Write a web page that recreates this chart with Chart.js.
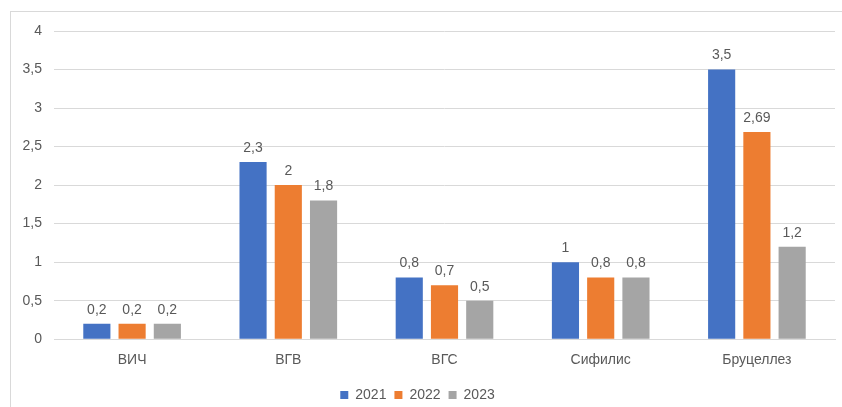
<!DOCTYPE html>
<html>
<head>
<meta charset="utf-8">
<script src="https://cdn.jsdelivr.net/npm/chart.js@4"></script>
<style>
  html, body { margin: 0; padding: 0; background: #fff; }
  #wrap { position: relative; width: 842px; height: 407px; overflow: hidden; }
  #frame { position: absolute; left: 10px; top: 11px; width: 840px; height: 410px;
           border: 1px solid #d9d9d9; box-sizing: border-box; }
  canvas { position: absolute; left: 0; top: 0; }
</style>
</head>
<body>
<div id="wrap">
  <div id="frame"></div>
  <canvas id="myChart" width="842" height="407"></canvas>
</div>
<script>
// categories and series
var diseases = ["ВИЧ", "ВГВ", "ВГС", "Сифилис", "Бруцеллез"];
var y2021 = [0.2, 2.3, 0.8, 1, 3.5];
var y2022 = [0.2, 2, 0.7, 0.8, 2.69];
var y2023 = [0.2, 1.8, 0.5, 0.8, 1.2];

var textColor = "#595959";
var fontFam = "'Liberation Sans', Arial, sans-serif";

function commaNum(v) {
  return String(v).replace(".", ",");
}

// value labels above the bars
var barLabels = {
  id: "barLabels",
  afterDatasetsDraw: function(chart) {
    var ctx = chart.ctx;
    ctx.save();
    ctx.font = "14px " + fontFam;
    ctx.fillStyle = textColor;
    ctx.textAlign = "center";
    ctx.textBaseline = "bottom";
    chart.data.datasets.forEach(function(ds, i) {
      chart.getDatasetMeta(i).data.forEach(function(bar, j) {
        ctx.fillText(commaNum(ds.data[j]), bar.x, bar.y - 7);
      });
    });
    ctx.restore();
  }
};

var ctx = document.getElementById("myChart");
var myChart = new Chart(ctx, {
  type: 'bar',
  data: {
    labels: diseases,
    datasets: [
      { label: "2021", data: y2021, backgroundColor: "#4472C4" },
      { label: "2022", data: y2022, backgroundColor: "#ED7D31" },
      { label: "2023", data: y2023, backgroundColor: "#A5A5A5" }
    ]
  },
  options: {
    responsive: false,
    animation: false,
    devicePixelRatio: 1,
    categoryPercentage: 0.677,
    barPercentage: 0.77,
    layout: { padding: { top: 31, right: 7, left: 0, bottom: -5 } },
    plugins: {
      tooltip: { enabled: false },
      legend: {
        position: 'bottom',
        labels: {
          color: textColor,
          font: { family: fontFam, size: 14 },
          boxWidth: 8,
          boxHeight: 8,
          padding: 8
        }
      }
    },
    scales: {
      x: {
        afterFit: function(scale) { scale.height -= 2; },
        grid: { display: false, drawTicks: false },
        border: { display: true, color: "#d9d9d9" },
        ticks: { color: textColor, font: { family: fontFam, size: 14 }, padding: 13 }
      },
      y: {
        min: 0,
        max: 4,
        afterFit: function(scale) { scale.width = 54; },
        grid: { color: "#d9d9d9", drawTicks: false },
        border: { display: false },
        ticks: {
          stepSize: 0.5,
          color: textColor,
          font: { family: fontFam, size: 14 },
          padding: 12,
          callback: function(v) { return commaNum(v); }
        }
      }
    }
  },
  plugins: [barLabels]
});
</script>
</body>
</html>
